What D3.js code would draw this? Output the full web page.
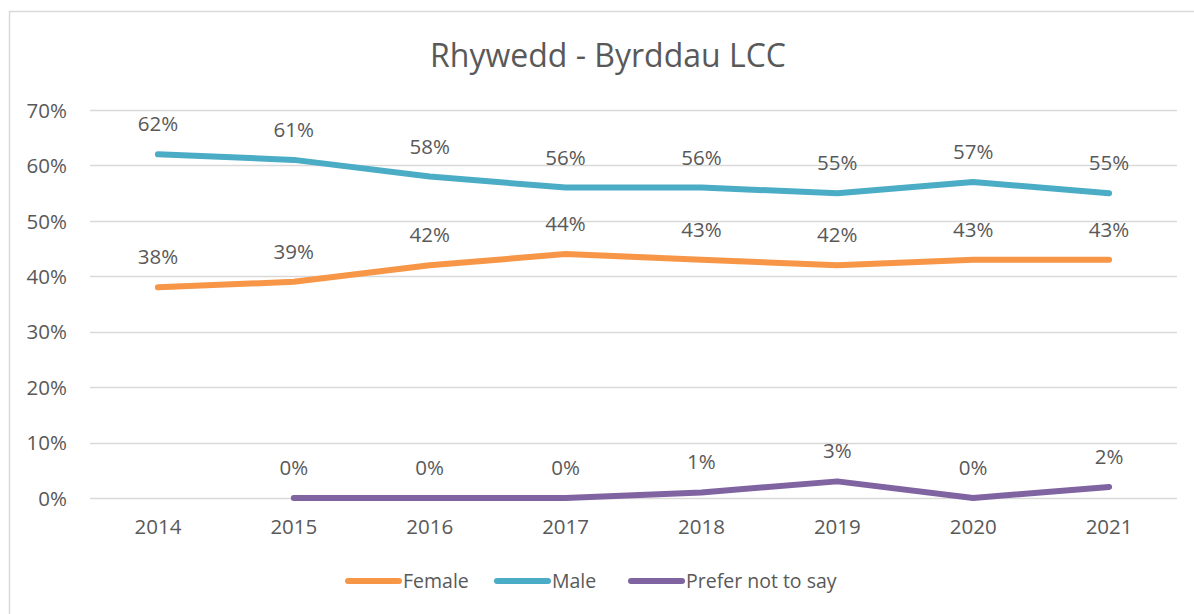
<!DOCTYPE html>
<html>
<head>
<meta charset="utf-8">
<script src="https://cdn.jsdelivr.net/npm/d3@7"></script>
<style>
  body { margin: 0; background: #fff; }
  text { font-family: "Open Sans", sans-serif; fill: #595959; }
</style>
</head>
<body>
<div id="chart"></div>
<script>
// chart data
var YEARS = ["2014","2015","2016","2017","2018","2019","2020","2021"];
var FEMALE = [0.38,0.39,0.42,0.44,0.43,0.42,0.43,0.43];
var MALE = [0.62,0.61,0.58,0.56,0.56,0.55,0.57,0.55];
var PREFER_NOT = [null,0,0,0,0.01,0.03,0,0.02];
var Y_TICKS = [0,0.1,0.2,0.3,0.4,0.5,0.6,0.7];
var SERIES_NAMES = ["Female","Male","Prefer not to say"];
var COLORS = ["#F79646","#4BACC6","#8064A2"];

var W = 1194, H = 614;
var PLOT_LEFT = 90, PLOT_RIGHT = 1177, PLOT_TOP = 110, PLOT_BOTTOM = 498;

var svg = d3.select("#chart").append("svg").attr("width",W).attr("height",H);

// outer frame (only left/top visible in the crop)
svg.append("rect").attr("x",9.5).attr("y",11.5).attr("width",W+20).attr("height",H+20)
  .attr("fill","none").attr("stroke","#D9D9D9").attr("stroke-width",1.5);

svg.append("text").attr("x",608).attr("y",67).attr("text-anchor","middle")
  .style("font-size","32px").text("Rhywedd - Byrddau LCC");

var x = d3.scaleBand().domain(YEARS).range([PLOT_LEFT,PLOT_RIGHT]);
var y = d3.scaleLinear().domain([0,0.7]).range([PLOT_BOTTOM,PLOT_TOP]);
var fmt = d3.format(".0%");

// gridlines
svg.append("g").selectAll("line").data(Y_TICKS).join("line")
  .attr("x1",PLOT_LEFT).attr("x2",PLOT_RIGHT)
  .attr("y1",function(d){return Math.round(y(d))+0.5;})
  .attr("y2",function(d){return Math.round(y(d))+0.5;})
  .attr("stroke","#D9D9D9").attr("stroke-width",1.5);

// y axis labels
var yAxis = svg.append("g").attr("transform","translate("+(PLOT_LEFT-23)+",0)")
  .call(d3.axisLeft(y).tickValues(Y_TICKS).tickFormat(fmt).tickSize(0).tickPadding(0));
yAxis.select(".domain").remove();
yAxis.selectAll("text").style("font-size","20.5px").style("font-family","Open Sans").attr("fill","#595959").attr("dy","0.35em");

// x axis labels
var xAxis = svg.append("g").attr("transform","translate(0,"+(PLOT_BOTTOM+18)+")")
  .call(d3.axisBottom(x).tickSize(0).tickPadding(0));
xAxis.select(".domain").remove();
xAxis.selectAll("text").style("font-size","20.5px").style("font-family","Open Sans").attr("fill","#595959").attr("dy","0.9em");

var cx = function(i){ return x(YEARS[i]) + x.bandwidth()/2; };
var line = d3.line()
  .defined(function(d){ return d!==null; })
  .x(function(d,i){ return cx(i); })
  .y(function(d){ return y(d); });

var allSeries = [FEMALE, MALE, PREFER_NOT];
allSeries.forEach(function(vals,s){
  svg.append("path").datum(vals).attr("d",line)
    .attr("fill","none").attr("stroke",COLORS[s]).attr("stroke-width",6)
    .attr("stroke-linecap","round").attr("stroke-linejoin","round");
  var pts = vals.map(function(v,i){ return {i:i, v:v}; })
    .filter(function(p){ return p.v!==null; });
  svg.append("g").selectAll("text").data(pts).join("text")
    .attr("x",function(p){ return cx(p.i); })
    .attr("y",function(p){ return y(p.v)-23; })
    .attr("text-anchor","middle").style("font-size","20.5px")
    .text(function(p){ return fmt(p.v); });
});

// legend
var LEG_X = [348,497,631];
var leg = svg.append("g").selectAll("g").data(SERIES_NAMES).join("g")
  .attr("transform",function(d,i){ return "translate("+LEG_X[i]+",581)"; });
leg.append("line").attr("x1",0).attr("x2",51).attr("y1",0).attr("y2",0)
  .attr("stroke",function(d,i){return COLORS[i];}).attr("stroke-width",6).attr("stroke-linecap","round");
leg.append("text").attr("x",55).attr("y",7).style("font-size","19.5px").text(function(d){return d;});
</script>
</body>
</html>
